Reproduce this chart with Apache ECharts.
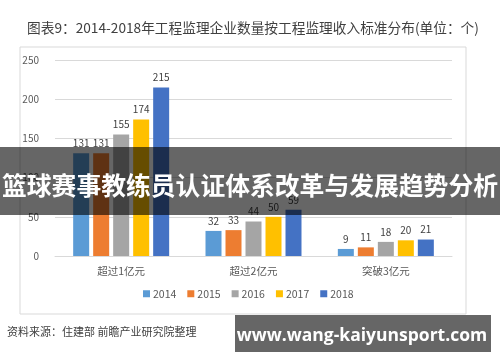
<!DOCTYPE html>
<html><head><meta charset="utf-8">
<script src="https://cdn.jsdelivr.net/npm/echarts@6/dist/echarts.min.js"></script>
<style>html,body{margin:0;padding:0;background:#fff}#c{width:500px;height:362px}</style>
</head><body><div id="c"></div>
<script>
const categories = ['超过1亿元', '超过2亿元', '突破3亿元'];
const years = ['2014', '2015', '2016', '2017', '2018'];
const v2014 = [131, 32, 9];
const v2015 = [131, 33, 11];
const v2016 = [155, 44, 18];
const v2017 = [174, 50, 20];
const v2018 = [215, 59, 21];
const yTicks = [0, 50, 100, 150, 200, 250];
const colors = ['#5B9BD5', '#ED7D31', '#A5A5A5', '#FFC000', '#4472C4'];
const seriesValues = [v2014, v2015, v2016, v2017, v2018];
const font = '"Noto Sans CJK SC", "Noto Sans", sans-serif';

const chart = echarts.init(document.getElementById('c'));
chart.setOption({
  animation: false,
  title: {
    text: '图表9：2014-2018年工程监理企业数量按工程监理收入标准分布(单位：个)',
    left: 22, top: 16,
    textStyle: { fontSize: 13.7, fontWeight: 'normal', color: '#404040', fontFamily: font }
  },
  legend: {
    data: years, bottom: 58, left: 138,
    itemWidth: 7, itemHeight: 7, itemGap: 11, icon: 'rect',
    textStyle: { fontSize: 10.5, color: '#595959', fontFamily: font, padding: [0, 0, 0, -2] }
  },
  grid: { left: 55, right: 48, top: 60, bottom: 106 },
  xAxis: {
    type: 'category', data: categories,
    axisLine: { lineStyle: { color: '#D9D9D9' } },
    axisTick: { show: false },
    axisLabel: { fontSize: 10.5, color: '#595959', fontFamily: font, margin: 10 }
  },
  yAxis: {
    type: 'value', min: 0, max: 250, interval: 50,
    axisLine: { show: false }, axisTick: { show: false },
    splitLine: { lineStyle: { color: '#D9D9D9' } },
    axisLabel: { fontSize: 10, color: '#595959', fontFamily: font, margin: 16,
      formatter: v => yTicks.includes(v) ? String(v) : '' }
  },
  series: years.map((y, i) => ({
    name: y, type: 'bar', data: seriesValues[i],
    barWidth: 16, barGap: '25%',
    itemStyle: { color: colors[i] },
    label: { show: true, position: 'top', fontSize: 10, color: '#404040', fontFamily: font, distance: 5 }
  })),
  graphic: [
    { type: 'rect', z: -1, shape: { x: 20, y: 47, width: 446, height: 267 },
      style: { fill: 'none', stroke: '#D9D9D9', lineWidth: 1 } },
    { type: 'text', left: 7, top: 326, style: { text: '资料来源：住建部 前瞻产业研究院整理', fontSize: 11, fill: '#404040', fontFamily: font } },
    { type: 'text', left: 402, top: 326, style: { text: '前瞻经济学人APP', fontSize: 11, fill: '#404040', fontFamily: font } },
    { type: 'rect', z: 100, shape: { x: 0, y: 147, width: 500, height: 68 },
      style: { fill: 'rgba(0,0,0,0.6)' } },
    { type: 'text', z: 101, x: 250, y: 186, style: { text: '篮球赛事教练员认证体系改革与发展趋势分析', fontSize: 24.8, fontWeight: 'bold', fill: '#fff', fontFamily: font, align: 'center', verticalAlign: 'middle' } },
    { type: 'rect', z: 100, shape: { x: 235, y: 315, width: 256, height: 37 },
      style: { fill: '#666666' } },
    { type: 'text', z: 101, x: 362, y: 336, style: { text: 'www.wang-kaiyunsport.com', fontSize: 17.5, fontWeight: 'bold', fill: '#fff', fontFamily: '"Open Sans", sans-serif', align: 'center', verticalAlign: 'middle' } }
  ]
});
</script></body></html>
